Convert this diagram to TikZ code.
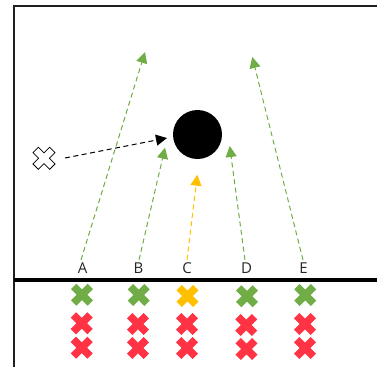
\documentclass[tikz,border=0pt]{standalone}
\usepackage{fontspec}
\setmainfont{Open Sans}
\usetikzlibrary{arrows.meta}
\definecolor{pgreen}{HTML}{70AD47}
\definecolor{pyellow}{HTML}{FFC000}
\definecolor{pred}{HTML}{FF3344}
\tikzset{
  x=1pt,y=-1pt,
  frameline/.style={draw=black!88,line width=2pt},
  groundline/.style={draw=black,line width=4pt},
  lab/.style={font=\fontsize{15}{17}\selectfont,text=black!85,inner sep=0pt,anchor=center},
  flight/.style={line width=1pt,dash pattern=on 5pt off 3.5pt,-{Triangle[length=11pt,width=11pt]}},
  pics/crossmark/.style={code={
    \path[rotate=45,#1] (-3.8,-11.8)--(3.8,-11.8)--(3.8,-3.8)--(11.8,-3.8)--(11.8,3.8)--(3.8,3.8)--(3.8,11.8)--(-3.8,11.8)--(-3.8,3.8)--(-11.8,3.8)--(-11.8,-3.8)--(-3.8,-3.8)--cycle;
  }}
}
\begin{document}
\begin{tikzpicture}
\useasboundingbox (0,0) rectangle (377,367);
\draw[frameline] (377,6) -- (14,6) -- (14,367);
\draw[groundline] (14,280) -- (377,280);
\node[circle,fill=black,minimum size=49pt,inner sep=0pt] (ball) at (197.5,134.5) {};
\node[lab] (la) at (82.5,268.5) {A};
\node[lab] (lb) at (138.5,268.5) {B};
\node[lab] (lc) at (187,268.5) {C};
\node[lab] (ld) at (246.5,268.5) {D};
\node[lab] (le) at (303.5,268.5) {E};
\coordinate (sx) at (65,158);
\coordinate (tx) at (167,138);
\coordinate (sa) at (81,260);
\coordinate (ta) at (145,52);
\coordinate (sb) at (139,260);
\coordinate (tb) at (165,147.7);
\coordinate (sc) at (187,260);
\coordinate (tc) at (197.3,174.7);
\coordinate (sd) at (245,260);
\coordinate (td) at (229.7,146);
\coordinate (se) at (303,260);
\coordinate (te) at (252.3,57);
\draw[flight,black] (sx) -- (tx);
\draw[flight,pgreen] (sa) -- (ta);
\draw[flight,pgreen] (sb) -- (tb);
\draw[flight,pyellow] (sc) -- (tc);
\draw[flight,pgreen] (sd) -- (td);
\draw[flight,pgreen] (se) -- (te);
\pic at (44,158.3) {crossmark={draw=black,fill=white,line width=0.8pt}};
\foreach \x/\y/\c in {82/294.7/pgreen,81.7/323.3/pred,81.7/347.7/pred,
  138.7/295/pgreen,138/324/pred,138/348/pred,
  187.5/296/pyellow,187/324/pred,187/348/pred,
  247/296.3/pgreen,246.3/325/pred,246.5/349/pred,
  305.3/295/pgreen,305/324/pred,305/348/pred}
  \pic at (\x,\y) {crossmark={fill=\c}};
\end{tikzpicture}
\end{document}
